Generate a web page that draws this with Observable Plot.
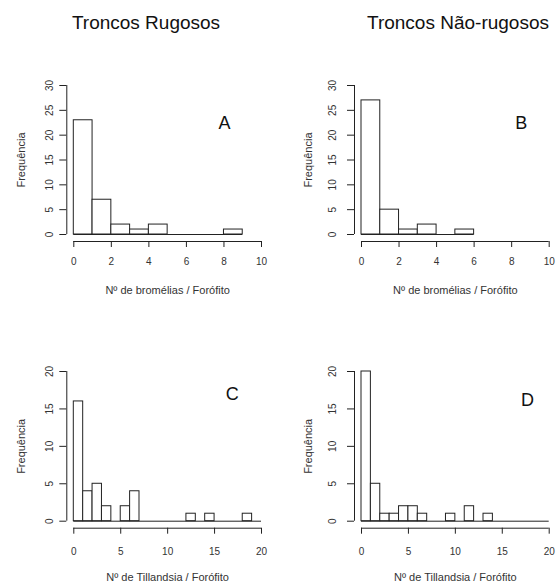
<!DOCTYPE html>
<html>
<head>
<meta charset="utf-8">
<script src="https://cdn.jsdelivr.net/npm/d3@7"></script>
<script src="https://cdn.jsdelivr.net/npm/@observablehq/plot@0.6"></script>
<style>
  body { margin: 0; background: #fff; }
  #wrap { position: relative; width: 560px; height: 588px; overflow: hidden; background: #fff;
          font-family: "Liberation Sans", Arial, sans-serif; }
  .title { position: absolute; font-size: 19px; line-height: 1; color: #111; white-space: nowrap;
           transform: translateX(-50%); }
  .panel { position: absolute; }
</style>
</head>
<body>
<div id="wrap"></div>
<script>
// ---- data ----
const columnTitles = ["Troncos Rugosos", "Troncos Não-rugosos"];
const panelLetters = ["A", "B", "C", "D"];
const xLabelTop = "Nº de bromélias / Forófito";
const xLabelBottom = "Nº de Tillandsia / Forófito";
const yLabel = "Frequência";

// histogram counts, bins of width 1 starting at 0
const countsA = [23, 7, 2, 1, 2, 0, 0, 0, 1];
const countsB = [27, 5, 1, 2, 0, 1];
const countsC = [16, 4, 5, 2, 0, 2, 4, 0, 0, 0, 0, 0, 1, 0, 1, 0, 0, 0, 1, 0];
const countsD = [20, 5, 1, 1, 2, 2, 1, 0, 0, 1, 0, 2, 0, 1, 0, 0, 0, 0, 0, 0];

const xTicksTop = [0, 2, 4, 6, 8, 10];
const yTicksTop = [0, 5, 10, 15, 20, 25, 30];
const xTicksBottom = [0, 5, 10, 15, 20];
const yTicksBottom = [0, 5, 10, 15, 20];

// ---- drawing ----
const FONT = '"Liberation Sans", Arial, sans-serif';
const INK = "#222";
const wrap = document.getElementById("wrap");

function addTitle(text, cx, top) {
  const d = document.createElement("div");
  d.className = "title";
  d.textContent = text;
  d.style.left = cx + "px";
  d.style.top = top + "px";
  wrap.appendChild(d);
}

function panel(cfg) {
  const bins = cfg.counts.map((n, i) => ({x1: i, x2: i + 1, n}));
  const nBins = cfg.counts.length;
  const xt = cfg.xTicks, yt = cfg.yTicks;
  const plot = Plot.plot({
    width: 280,
    height: cfg.height,
    marginLeft: cfg.mL, marginRight: cfg.mR, marginTop: cfg.mT, marginBottom: cfg.mB,
    x: {domain: [xt[0], xt[xt.length - 1]], axis: null},
    y: {domain: [yt[0], yt[yt.length - 1]], axis: null},
    style: {fontFamily: FONT, background: "transparent", overflow: "visible", color: "#333"},
    marks: [
      // histogram bars
      Plot.rect(bins, {x1: "x1", x2: "x2", y1: () => 0, y2: "n", fill: "white", stroke: INK, strokeWidth: 1}),
      // zero baseline over all bins (R draws empty bins as flat line)
      Plot.ruleY([0], {x1: () => 0, x2: () => nBins, stroke: INK, strokeWidth: 1}),
      // x axis (offset like R)
      Plot.ruleY([0], {x1: () => xt[0], x2: () => xt[xt.length - 1], dy: 7, stroke: INK}),
      Plot.axisX(xt, {anchor: "bottom", tickSize: 6, dy: 7, stroke: INK, tickFormat: () => "", label: null}),
      Plot.text(xt, {x: d => d, frameAnchor: "bottom", dy: cfg.xTickDy, lineAnchor: "middle",
                     fontSize: 10, fill: "#333"}),
      // y axis
      Plot.ruleX([0], {y1: () => yt[0], y2: () => yt[yt.length - 1], dx: -7, stroke: INK}),
      Plot.axisY(yt, {anchor: "left", tickSize: 7, dx: -7, stroke: INK, tickFormat: () => "", label: null}),
      Plot.text(yt, {y: d => d, frameAnchor: "left", dx: cfg.yTickDx, rotate: -90,
                     textAnchor: "middle", lineAnchor: "middle", fontSize: 10, fill: "#333"}),
      // axis titles
      Plot.text([cfg.xLabel], {frameAnchor: "bottom", dy: 56, lineAnchor: "middle", fontSize: 11, fill: "#333"}),
      Plot.text([yLabel], {frameAnchor: "left", dx: -52.7, rotate: -90, textAnchor: "middle",
                           lineAnchor: "middle", fontSize: 11, fill: "#333"}),
      // panel letter
      Plot.text([cfg.letter], {frameAnchor: "top-right", dx: cfg.lDx, dy: cfg.lDy, textAnchor: "middle",
                               lineAnchor: "middle", fontSize: 18, fill: "#111"})
    ]
  });
  plot.classList.add("panel");
  plot.style.left = cfg.left + "px";
  plot.style.top = cfg.top + "px";
  wrap.appendChild(plot);
}

addTitle(columnTitles[0], 146, 13);
addTitle(columnTitles[1], 458, 13);

const topRow = {height: 250, top: 60, mT: 25, mB: 76, xTicks: xTicksTop, yTicks: yTicksTop, xLabel: xLabelTop, xTickDy: 27.7};
const botRow = {height: 248, top: 340, mT: 31, mB: 67.3, xTicks: xTicksBottom, yTicks: yTicksBottom, xLabel: xLabelBottom, xTickDy: 30.1};
const leftCol = {left: 0, mL: 73.3, mR: 19, yTickDx: -24};
const rightCol = {left: 280, mL: 81, mR: 11.3, yTickDx: -28.3};

panel({...topRow, ...leftCol, counts: countsA, letter: panelLetters[0], lDx: -37, lDy: 38});
panel({...topRow, ...rightCol, counts: countsB, letter: panelLetters[1], lDx: -28, lDy: 38});
panel({...botRow, ...leftCol, counts: countsC, letter: panelLetters[2], lDx: -29.3, lDy: 22.3});
panel({...botRow, ...rightCol, counts: countsD, letter: panelLetters[3], lDx: -21.7, lDy: 29});
</script>
</body>
</html>
